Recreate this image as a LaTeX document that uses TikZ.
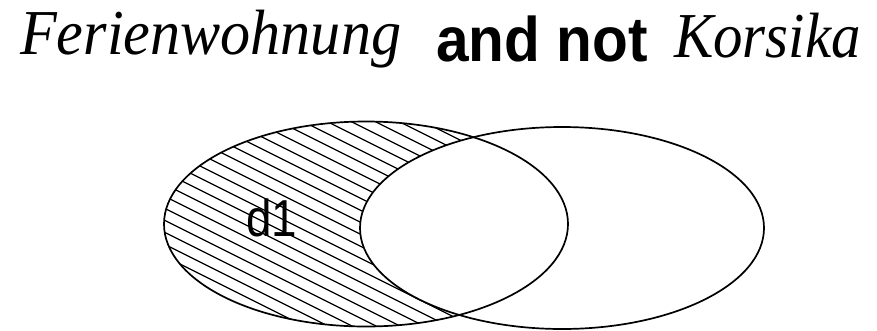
\documentclass[tikz,border=0pt]{standalone}
\usepackage{fontspec}
\setmainfont{Liberation Serif}
\newfontfamily\arialfont{Liberation Sans}
\begin{document}
\begin{tikzpicture}[x=1pt,y=-1pt,
  outline/.style={line width=1.7pt},
  hatchline/.style={line width=1.3pt},
  titleserif/.style={anchor=base west,inner sep=0pt,font=\fontsize{64}{64}\selectfont\itshape},
  titlesans/.style={anchor=base west,inner sep=0pt,font=\fontsize{63}{63}\selectfont\arialfont\bfseries},
  labelsans/.style={inner sep=0pt,font=\fontsize{52}{52}\selectfont\arialfont}]
\useasboundingbox (0,0) rectangle (877,330);
% hatching of left ellipse
\begin{scope}
  \clip (366,224) ellipse [x radius=202, y radius=102.5];
  \foreach \c in {-174,-162,...,258}{
    \draw[hatchline] (140,\c+70) -- (620,\c+310);
  }
\end{scope}
% right ellipse covers the intersection
\fill[white] (562,228) ellipse [x radius=202, y radius=101];
\draw[outline] (366,224) ellipse [x radius=202, y radius=102.5];
\draw[outline] (562,228) ellipse [x radius=202, y radius=101];
\node[labelsans] (d1) at (272,218) {\scalebox{0.88}[1]{d1}};
% title
\node[titleserif] (t1) at (20,54) {\scalebox{0.94}[1]{Ferienwohnung}};
\node[titlesans] (t2) at (436,61) {\scalebox{0.93}[1]{and not}};
\node[titleserif] (t3) at (674,57) {\scalebox{0.92}[1]{Korsika}};
\end{tikzpicture}
\end{document}
